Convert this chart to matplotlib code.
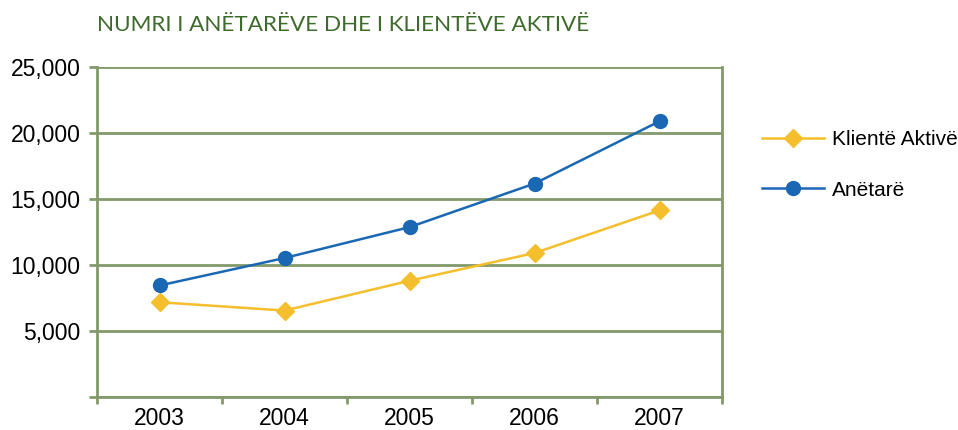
#!/usr/bin/env python3
import matplotlib
matplotlib.use("Agg")
import matplotlib.pyplot as plt

years = ["2003", "2004", "2005", "2006", "2007"]
klientet = [7180, 6550, 8810, 10910, 14140]
anetaret = [8450, 10530, 12870, 16170, 20890]
yticks = [0, 5000, 10000, 15000, 20000, 25000]
ylabels = ["", "5,000", "10,000", "15,000", "20,000", "25,000"]

GREEN = "#83996c"
BLUE = "#1a67b4"
YELLOW = "#f4be2c"

plt.rcParams["font.family"] = ["Liberation Sans", "DejaVu Sans"]

fig = plt.figure(figsize=(9.58, 4.30), dpi=100)
ax = fig.add_axes([0.1013, 0.0767, 0.6524, 0.7675])

x = range(len(years))
ax.plot(x, klientet, color=YELLOW, lw=1.8, marker="D", markersize=9.5,
        label="Klientë Aktivë")
ax.plot(x, anetaret, color=BLUE, lw=1.8, marker="o", markersize=10,
        label="Anëtarë")

ax.set_xlim(-0.5, 4.5)
ax.set_ylim(0, 25000)
ax.set_yticks(yticks)
ax.set_yticklabels(ylabels)
ax.set_xticks(x)
ax.set_xticklabels(years)
# ticks sit between the categories
ax.set_xticks([i - 0.5 for i in range(len(years) + 1)], minor=True)
ax.tick_params(axis="x", which="major", length=0, pad=7, labelsize=16.5)
ax.tick_params(axis="x", which="minor", length=5, width=2, color=GREEN)
ax.tick_params(axis="y", length=6, width=2, color=GREEN, pad=6, labelsize=16.5)

ax.grid(axis="y", color=GREEN, lw=2)
ax.set_axisbelow(True)
for s in ax.spines.values():
    s.set_color(GREEN)
    s.set_linewidth(2)
ax.spines["top"].set_visible(False)

fig.text(0.1013, 0.942, "NUMRI I ANËTARËVE DHE I KLIENTËVE AKTIVË",
         color="#3d6b2c", fontsize=16.2, family=["Lato", "DejaVu Sans"],
         va="center", ha="left")

fig.legend(loc="upper left", bbox_to_anchor=(0.795, 0.697), frameon=False,
           fontsize=15, handlelength=3.0, labelspacing=1.5,
           handletextpad=0.4, borderpad=0, borderaxespad=0)

fig.savefig("out.png", dpi=100)
